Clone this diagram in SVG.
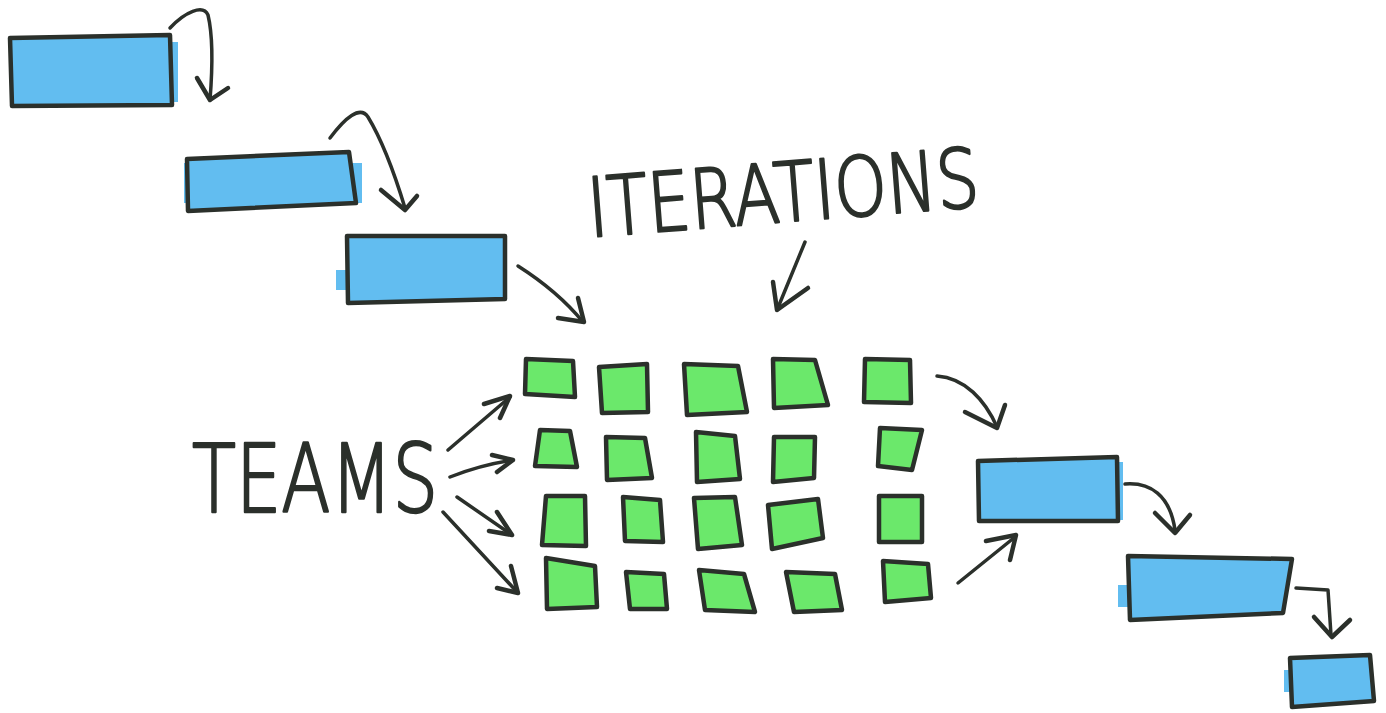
<svg xmlns="http://www.w3.org/2000/svg" width="1386" height="713" viewBox="0 0 1386 713">
  <style>
    .bar { fill: #62bdf0; stroke: #2b302b; stroke-width: 4.5; stroke-linejoin: round; }
    .tint { fill: #62bdf0; }
    .cell { fill: #6be86b; stroke: #2b302b; stroke-width: 4.5; stroke-linejoin: round; }
    .wire { fill: none; stroke: #2b302b; stroke-width: 3.5; stroke-linecap: round; stroke-linejoin: round; }
    .head { fill: none; stroke: #2b302b; stroke-width: 4.5; stroke-linecap: round; stroke-linejoin: round; }
    .label { font-family: "DejaVu Sans", "Liberation Sans", sans-serif; font-weight: 200; fill: #2b302b; stroke: #2b302b; stroke-width: 2.5; stroke-linejoin: round; }
  </style>
  <rect width="1386" height="713" fill="#ffffff"/>

  <!-- waterfall phases, upper half -->
  <g id="phase-1">
    <rect class="tint" x="12" y="42" width="166" height="60"/>
    <polygon class="bar" points="10,38 170,35 172,105 12,106"/>
  </g>
  <g id="phase-2">
    <rect class="tint" x="184" y="163" width="178" height="40"/>
    <polygon class="bar" points="187,159 349,152 356,203 188,211"/>
  </g>
  <g id="phase-3">
    <rect class="tint" x="336" y="270" width="20" height="20"/>
    <polygon class="bar" points="347,236 505,236 505,299 348,303"/>
  </g>

  <!-- labels -->
  <g id="label-iterations">
    <text class="label" x="590" y="237" font-size="82" textLength="392" lengthAdjust="spacingAndGlyphs" transform="rotate(-4.5 590 237)">ITERATIONS</text>
  </g>
  <g id="label-teams">
    <text class="label" x="192" y="512" font-size="94" textLength="246" lengthAdjust="spacingAndGlyphs">TEAMS</text>
  </g>

  <!-- team x iteration grid -->
  <g id="grid">
    <g id="cell-r1c1"><polygon class="cell" points="526,359 573,361 575,397 525,394"/></g>
    <g id="cell-r1c2"><polygon class="cell" points="599,367 647,364 648,412 602,413"/></g>
    <g id="cell-r1c3"><polygon class="cell" points="684,364 738,366 747,412 687,415"/></g>
    <g id="cell-r1c4"><polygon class="cell" points="773,359 815,360 828,405 774,408"/></g>
    <g id="cell-r1c5"><polygon class="cell" points="865,359 910,360 911,403 864,402"/></g>

    <g id="cell-r2c1"><polygon class="cell" points="540,430 570,431 577,467 535,466"/></g>
    <g id="cell-r2c2"><polygon class="cell" points="606,437 645,438 652,478 607,480"/></g>
    <g id="cell-r2c3"><polygon class="cell" points="696,432 735,436 740,479 697,482"/></g>
    <g id="cell-r2c4"><polygon class="cell" points="774,437 815,437 814,478 773,482"/></g>
    <g id="cell-r2c5"><polygon class="cell" points="880,428 922,430 912,470 878,466"/></g>

    <g id="cell-r3c1"><polygon class="cell" points="546,496 585,496 586,546 542,545"/></g>
    <g id="cell-r3c2"><polygon class="cell" points="623,497 660,500 663,542 625,541"/></g>
    <g id="cell-r3c3"><polygon class="cell" points="694,498 735,497 742,545 698,549"/></g>
    <g id="cell-r3c4"><polygon class="cell" points="768,505 818,499 823,538 772,549"/></g>
    <g id="cell-r3c5"><polygon class="cell" points="879,496 922,496 922,542 879,542"/></g>

    <g id="cell-r4c1"><polygon class="cell" points="546,558 595,566 597,607 547,609"/></g>
    <g id="cell-r4c2"><polygon class="cell" points="626,572 664,574 667,609 630,609"/></g>
    <g id="cell-r4c3"><polygon class="cell" points="699,570 744,574 755,612 705,610"/></g>
    <g id="cell-r4c4"><polygon class="cell" points="786,572 835,574 842,610 794,612"/></g>
    <g id="cell-r4c5"><polygon class="cell" points="883,561 928,564 931,598 885,602"/></g>
  </g>

  <!-- waterfall phases, lower half -->
  <g id="phase-4">
    <rect class="tint" x="978" y="462" width="145" height="58"/>
    <polygon class="bar" points="978,461 1117,457 1118,521 979,521"/>
  </g>
  <g id="phase-5">
    <rect class="tint" x="1118" y="585" width="20" height="22"/>
    <polygon class="bar" points="1128,556 1292,559 1283,613 1130,620"/>
  </g>
  <g id="phase-6">
    <rect class="tint" x="1284" y="670" width="12" height="22"/>
    <polygon class="bar" points="1290,658 1370,655 1374,701 1292,707"/>
  </g>

  <!-- connectors -->
  <g id="connectors">
    <path class="wire" d="M170,28 C185,12 203,4 208,15 C214,40 212,75 210,100"/>
    <path class="head" d="M197,78 L210,100 L228,88"/>

    <path class="wire" d="M330,138 C345,118 360,105 368,117 C382,140 395,175 405,208"/>
    <path class="head" d="M381,190 L405,210 L417,196"/>

    <path class="wire" d="M518,266 C540,280 565,300 583,322"/>
    <path class="head" d="M578,298 L584,322 L558,318"/>

    <path class="wire" d="M805,242 L777,310"/>
    <path class="head" d="M773,282 L777,310 L808,288"/>

    <path class="wire" d="M448,450 L510,397"/>
    <path class="head" d="M484,404 L510,396 L500,418"/>
    <path class="wire" d="M450,477 Q480,465 513,460"/>
    <path class="head" d="M492,455 L513,460 L497,472"/>
    <path class="wire" d="M457,497 L512,535"/>
    <path class="head" d="M497,512 L512,535 L489,531"/>
    <path class="wire" d="M443,512 L518,593"/>
    <path class="head" d="M511,566 L518,593 L497,588"/>

    <path class="wire" d="M937,376 C965,378 985,400 997,427"/>
    <path class="head" d="M965,412 L997,428 L1005,405"/>

    <path class="wire" d="M958,583 L1015,537"/>
    <path class="head" d="M986,541 L1016,535 L1010,560"/>

    <path class="wire" d="M1125,484 C1150,482 1170,495 1175,530"/>
    <path class="head" d="M1155,513 L1175,533 L1190,515"/>

    <path class="wire" d="M1296,588 L1328,590 L1331,635"/>
    <path class="head" d="M1314,617 L1332,637 L1350,620"/>
  </g>
</svg>
